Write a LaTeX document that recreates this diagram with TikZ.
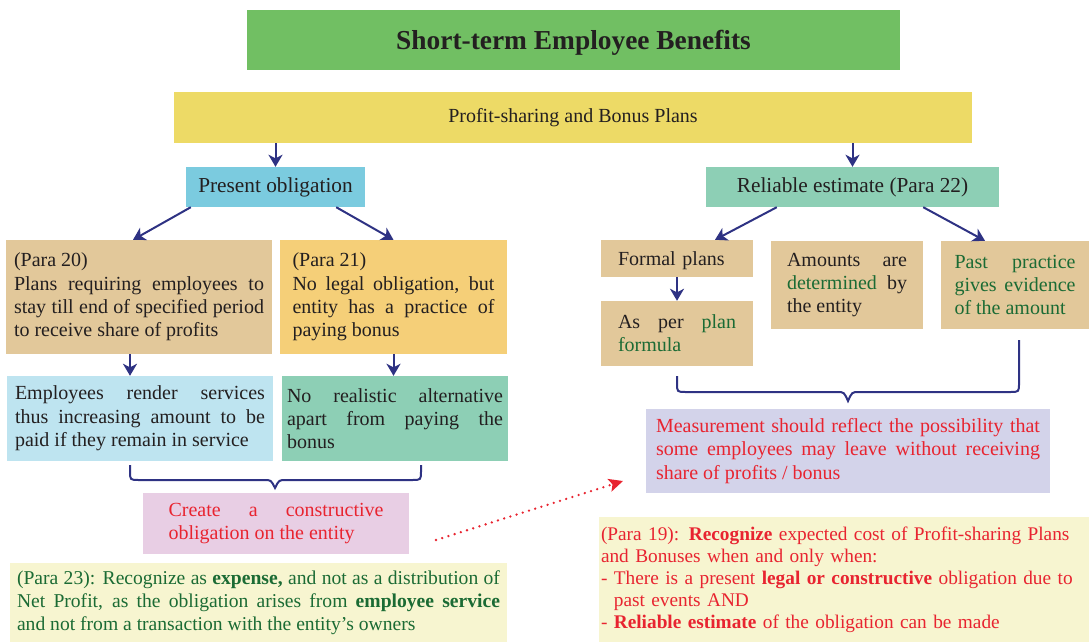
\documentclass[tikz,border=0pt]{standalone}
\usepackage{fontspec}
\setmainfont{Liberation Serif}
\usetikzlibrary{arrows.meta, calc}
\definecolor{ttlgreen}{HTML}{71BF63}
\definecolor{plnyellow}{HTML}{EDDA66}
\definecolor{obblue}{HTML}{7BCBDF}
\definecolor{estgreen}{HTML}{8DCFB5}
\definecolor{tanbox}{HTML}{E2C89A}
\definecolor{orbox}{HTML}{F5CF78}
\definecolor{paleblue}{HTML}{BEE4F0}
\definecolor{pinkbox}{HTML}{E8CEE4}
\definecolor{creambox}{HTML}{F7F5D0}
\definecolor{lavbox}{HTML}{D3D3EA}
\definecolor{arrnavy}{HTML}{2E3283}
\definecolor{txtred}{HTML}{E82430}
\definecolor{txtgreen}{HTML}{1B6B34}
\definecolor{txtdark}{HTML}{231F20}
\tikzset{
  boxbase/.style={rectangle, inner sep=0pt, draw=none, text=txtdark},
  ttlbox/.style={boxbase, fill=ttlgreen, text depth=0pt, font=\fontsize{27.4}{30}\selectfont\bfseries},
  plnbox/.style={boxbase, fill=plnyellow, font=\fontsize{20}{23}\selectfont},
  hdrbox/.style={boxbase, font=\fontsize{21.3}{24}\selectfont},
  txtbox/.style={boxbase, align=justify, font=\fontsize{20}{23.3}\selectfont,
                 execute at begin node={\sloppy\hyphenpenalty=10000}},
  notebox/.style={boxbase, fill=creambox, align=left},
  flowarr/.style={draw=arrnavy, line width=2pt, -{Stealth[length=12pt, width=14pt, inset=3.5pt]}},
  bracepath/.style={draw=arrnavy, line width=2pt},
  linkarr/.style={draw=txtred, line width=2.6pt, line cap=round, dash pattern=on 0pt off 6.5pt,
                  -{Stealth[length=14pt, width=13pt, inset=3pt]}},
}
\newcommand{\grn}[1]{\textcolor{txtgreen}{#1}}
\begin{document}
\begin{tikzpicture}[x=1pt, y=-1pt]
\useasboundingbox (0,0) rectangle (1089,642);

\node[ttlbox, minimum width=653pt, minimum height=60pt] (title) at (573.5,40) {Short-term Employee Benefits};
\node[plnbox, minimum width=798pt, minimum height=51pt] (plans) at (573,117.5) {Profit-sharing and Bonus Plans};

\node[hdrbox, fill=obblue, minimum width=179pt, minimum height=40pt] (po) at (275.5,187) {Present obligation};
\node[hdrbox, fill=estgreen, minimum width=293pt, minimum height=40pt] (re) at (852.5,187) {Reliable estimate (Para 22)};

\node[txtbox, fill=tanbox, minimum width=266pt, minimum height=114pt, text width=250pt] (p20) at (139,297)
 {(Para 20)\\ Plans requiring employees to\linebreak stay till end of specified period\linebreak to receive share of profits};
\node[txtbox, fill=orbox, minimum width=227pt, minimum height=114pt, text width=202pt] (p21) at (393.5,297)
 {(Para 21)\\ No legal obligation, but\linebreak entity has a practice of\linebreak paying bonus};

\node[txtbox, fill=paleblue, minimum width=266pt, minimum height=85pt, text width=250pt] (emp) at (140,418.5)
 {Employees render services\linebreak thus increasing amount to be\linebreak paid if they remain in service};
\node[txtbox, fill=estgreen, minimum width=226pt, minimum height=85pt, text width=216pt] (norel) at (395,418.5)
 {No realistic alternative\linebreak apart from paying the\linebreak bonus};

\node[txtbox, fill=pinkbox, text=txtred, minimum width=266pt, minimum height=61pt, text width=215pt] (create) at (276,523.5)
 {Create a constructive\linebreak obligation on the entity};

\node[txtbox, fill=creambox, text=txtgreen, font=\fontsize{19.6}{23}\selectfont,
      minimum width=497pt, minimum height=79pt, text width=483pt] (p23) at (258.5,602.5)
 {(Para 23): Recognize as \textbf{expense,} and not as a distribution of\linebreak Net Profit, as the obligation arises from \textbf{employee service}\linebreak and not from a transaction with the entity's owners};

\node[txtbox, fill=tanbox, align=left, text depth=0pt, minimum width=152pt, minimum height=37pt, text width=118pt] (fp) at (677,258.5) {Formal plans};
\node[txtbox, fill=tanbox, minimum width=152pt, minimum height=65pt, text width=118pt] (asper) at (677,333.5)
 {As per \grn{plan}\linebreak \grn{formula}};
\node[txtbox, fill=tanbox, minimum width=152pt, minimum height=88pt, text width=120pt] (amt) at (847,285)
 {Amounts are\linebreak \grn{determined} by\linebreak the entity};
\node[txtbox, fill=tanbox, text=txtgreen, minimum width=148pt, minimum height=88pt, text width=121pt] (past) at (1015,285)
 {Past practice\linebreak gives evidence\linebreak of the amount};

\node[txtbox, fill=lavbox, text=txtred, minimum width=404pt, minimum height=84pt, text width=384pt] (meas) at (848,451)
 {Measurement should reflect the possibility that\linebreak some employees may leave without receiving\linebreak share of profits / bonus};

\node[notebox, text=txtred, font=\fontsize{19.3}{22}\selectfont,
      minimum width=490pt, minimum height=125pt, text width=486pt] (p19) at (844,579.5)
 {(Para 19): \textbf{Recognize} expected cost of Profit-sharing Plans\\
  and Bonuses when and only when:\\
  - There is a present \textbf{legal or constructive} obligation due to\\
  \phantom{- }past events AND\\
  - \textbf{Reliable estimate} of the obligation can be made};

\draw[flowarr] (plans.south -| po.north) -- (po.north);
\draw[flowarr] (plans.south -| re.north) -- (re.north);
\draw[flowarr] ([xshift=5pt]po.south west) -- ([xshift=-6pt]p20.north);
\draw[flowarr] ([xshift=-29pt]po.south east) -- (p21.north);
\draw[flowarr] ([xshift=71pt]re.south west) -- ([xshift=38pt]fp.north);
\draw[flowarr] ([xshift=-76pt]re.south east) -- ([xshift=-30pt]past.north);
\draw[flowarr] ([xshift=-9pt]p20.south) -- ([xshift=-10pt]emp.north);
\draw[flowarr] (p21.south) -- (p21.south |- norel.north);
\draw[flowarr] (fp.south) -- (asper.north);

\draw[bracepath] (130,465) -- (130,471) .. controls (130,480) .. (139,480) -- (264,480)
  .. controls (271,480) .. (275,488) .. controls (279,480) .. (286,480) -- (412,480)
  .. controls (421,480) .. (421,471) -- (421,465);
\draw[bracepath] (677,376) -- (677,383) .. controls (677,392) .. (686,392) -- (837,392)
  .. controls (844,392) .. (848,401) .. controls (852,392) .. (859,392) -- (1010,392)
  .. controls (1019,392) .. (1019,383) -- (1019,340);

\coordinate (dotA) at (436,540);
\coordinate (dotB) at (623,481);
\draw[linkarr] (dotA) -- (dotB);

\end{tikzpicture}
\end{document}
